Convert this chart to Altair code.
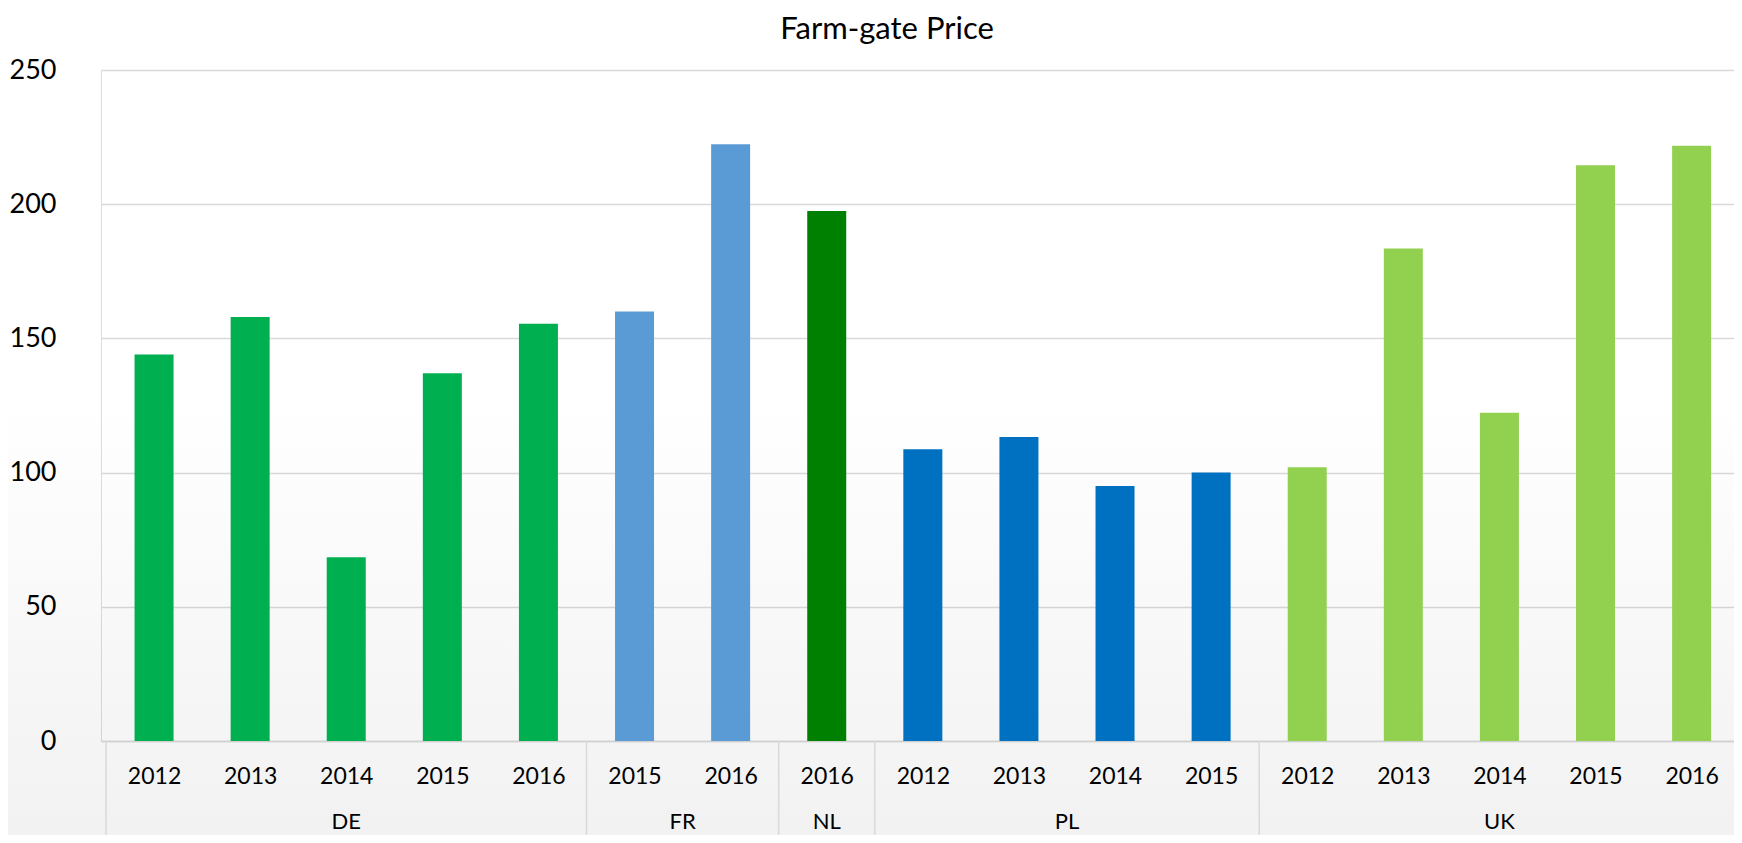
import altair as alt
import pandas as pd

# ---- data ----
title_text = "Farm-gate Price"
countries = ["DE", "DE", "DE", "DE", "DE", "FR", "FR", "NL",
             "PL", "PL", "PL", "PL", "UK", "UK", "UK", "UK", "UK"]
years = ["2012", "2013", "2014", "2015", "2016", "2015", "2016", "2016",
         "2012", "2013", "2014", "2015", "2012", "2013", "2014", "2015", "2016"]
prices = [144, 158, 68.5, 137, 155.5, 160, 222.3, 197.5,
          108.7, 113.3, 95, 100, 102, 183.5, 122.3, 214.5, 221.8]
group_names = ["DE", "FR", "NL", "PL", "UK"]
group_colors = ["#00B050", "#5B9BD5", "#008000", "#0070C0", "#92D050"]
y_ticks = [0, 50, 100, 150, 200, 250]

# ---- tables ----
bars = pd.DataFrame({"idx": list(range(len(prices))), "country": countries,
                     "year": years, "price": prices})
g = bars.groupby("country", sort=False)["idx"].agg(["min", "max"]).reset_index()
groups = pd.DataFrame({"country": g["country"], "center": (g["min"] + g["max"]) / 2})
bounds = pd.DataFrame({"b": list(g["min"] - 0.5) + [g["max"].iloc[-1] + 0.5]})

W, H = 1633, 671
step = 96.69
xdomain = [-0.5, -0.5 + W / step]
FONT = "Lato"

label_expr = "[" + ",".join("'%s'" % y for y in years) + "][datum.value]"

xscale = alt.Scale(domain=xdomain, nice=False, zero=False)
yscale = alt.Scale(domain=[0, 250], nice=False)

bg = alt.Chart(pd.DataFrame({"k": [0]})).mark_rect(
    fill=alt.Gradient(
        gradient="linear", x1=0, x2=0, y1=0, y2=1,
        stops=[alt.GradientStop(offset=0, color="rgba(0,0,0,0)"),
               alt.GradientStop(offset=0.42, color="rgba(0,0,0,0)"),
               alt.GradientStop(offset=1, color="rgba(0,0,0,0.055)")]
    )
).encode(x=alt.value(-93), x2=alt.value(W + 20), y=alt.value(0), y2=alt.value(H + 110))

bar = alt.Chart(bars).mark_bar(size=39).encode(
    x=alt.X("idx:Q", scale=xscale,
            axis=alt.Axis(values=list(range(len(years))), labelExpr=label_expr,
                          title=None, grid=False, ticks=False, tickSize=0,
                          domainColor="#d9d9d9", domainWidth=1.5,
                          labelFont=FONT, labelFontSize=23, labelColor="#000000",
                          labelBaseline="middle", labelPadding=35,
                          labelFlush=False, labelOverlap=False)),
    y=alt.Y("price:Q", scale=yscale,
            axis=alt.Axis(values=y_ticks, title=None, domain=False, ticks=False,
                          tickSize=0, gridColor="#d9d9d9", gridWidth=1.5,
                          labelFont=FONT, labelFontSize=27, labelColor="#000000",
                          labelPadding=45)),
    color=alt.Color("country:N", scale=alt.Scale(domain=group_names, range=group_colors),
                    legend=None),
)

seps = alt.Chart(bounds).mark_rule(color="#d9d9d9", strokeWidth=1.5).encode(
    x=alt.X("b:Q", scale=xscale),
    y=alt.value(H), y2=alt.value(H + 110),
)

glabels = alt.Chart(groups).mark_text(
    font=FONT, fontSize=22, color="#000000", baseline="alphabetic", align="center"
).encode(
    x=alt.X("center:Q", scale=xscale),
    y=alt.value(H + 88),
    text="country:N",
)

title = alt.Chart(pd.DataFrame({"t": [title_text]})).mark_text(
    font=FONT, fontSize=31, color="#000000", baseline="alphabetic", align="center"
).encode(x=alt.value(786), y=alt.value(-31), text="t:N")

chart = alt.layer(bg, bar, seps, glabels, title).properties(
    width=W, height=H,
    padding={"left": 93, "top": 62, "right": 0, "bottom": 94},
    autosize=alt.AutoSizeParams(type="none"),
).configure_view(stroke=None).configure(background="white")

chart.save("out.html", embed_options={"renderer": "svg", "actions": False})
